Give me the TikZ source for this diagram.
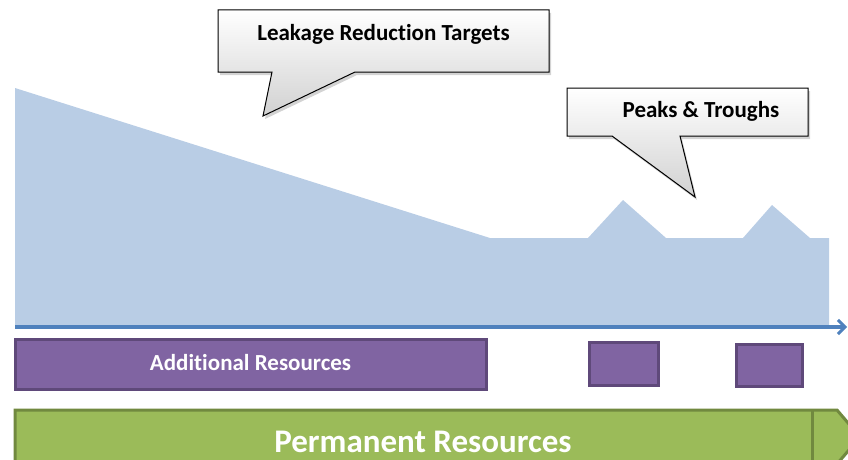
\documentclass[tikz,border=0pt]{standalone}
\usepackage{fontspec}
\setmainfont{Carlito}[Ligatures={NoCommon}]
\usetikzlibrary{arrows.meta,shadows}
\definecolor{areaBlue}{HTML}{B9CDE5}
\definecolor{axisBlue}{HTML}{4F81BD}
\definecolor{purpFill}{HTML}{8064A2}
\definecolor{purpLine}{HTML}{5F497A}
\definecolor{grnFill}{HTML}{9BBB59}
\definecolor{grnLine}{HTML}{71893F}
\tikzset{
  callout/.style={draw=black, line width=1pt, top color=white, bottom color=black!18,
    drop shadow={shadow xshift=2pt, shadow yshift=-3pt, opacity=0.35}},
  calltext/.style={font=\bfseries\fontsize{23}{25}\selectfont, text=black},
  resbox/.style={draw=purpLine, line width=3pt, fill=purpFill,
    drop shadow={shadow xshift=1pt, shadow yshift=-2pt, opacity=0.3}},
  restext/.style={font=\bfseries\fontsize{23}{25}\selectfont, text=white},
}
\begin{document}
\begin{tikzpicture}[x=1pt,y=-1pt]
\useasboundingbox (0,0) rectangle (848,460);
% area
\fill[areaBlue] (15,88) -- (490,238) -- (588,238) -- (623,200) -- (666,238) -- (743,238) -- (772,205) -- (810,238) -- (829,238) -- (829,326) -- (15,326) -- cycle;
% axis
\coordinate (axs) at (15,327);
\coordinate (axe) at (847,327);
\draw[axisBlue, line width=3.5pt, -{Straight Barb[length=7pt,width=14pt,line width=3pt]}] (axs) -- (axe);
% callout 1
\path[callout] (218,10) -- (549,10) -- (549,72) -- (355,72) -- (263,116) -- (272,72) -- (218,72) -- cycle;
\node[calltext] (lrt) at (383.5,34) {Leakage Reduction Targets};
% callout 2
\path[callout] (567,88) -- (808,88) -- (808,136) -- (680,136) -- (695,197) -- (612,136) -- (567,136) -- cycle;
\node[calltext] (pt) at (701,111) {Peaks \& Troughs};
% purple boxes
\draw[resbox] (15,339) rectangle (486,389);
\node[restext] (add) at (250.5,363) {Additional Resources};
\draw[resbox] (589,342) rectangle (658,385);
\draw[resbox] (736,344) rectangle (802,386);
% green arrow
\draw[grnLine, line width=3pt, fill=grnFill] (15,410) -- (837,410) -- (860,437) -- (837,464) -- (15,464) -- cycle;
\draw[grnLine, line width=3pt] (812,410) -- (812,464);
\node[font=\bfseries\fontsize{33}{35}\selectfont, text=white] (perm) at (423,442) {Permanent Resources};
\end{tikzpicture}
\end{document}
